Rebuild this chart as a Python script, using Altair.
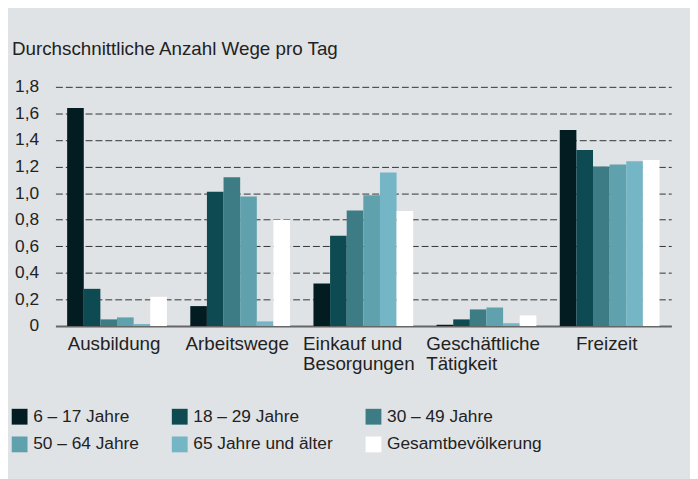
import altair as alt
import pandas as pd

categories = ["Ausbildung", "Arbeitswege", "Einkauf und|Besorgungen", "Geschäftliche|Tätigkeit", "Freizeit"]
groups = ["6 – 17 Jahre", "18 – 29 Jahre", "30 – 49 Jahre", "50 – 64 Jahre", "65 Jahre und älter", "Gesamtbevölkerung"]
colors = ["#021c22", "#0e4a52", "#3d7b85", "#5fa1ad", "#74b5c6", "#ffffff"]

v_6_17 = [1.64, 0.15, 0.32, 0.01, 1.475]
v_18_29 = [0.28, 1.01, 0.68, 0.05, 1.325]
v_30_49 = [0.05, 1.12, 0.87, 0.125, 1.20]
v_50_64 = [0.065, 0.975, 0.985, 0.14, 1.215]
v_65 = [0.015, 0.035, 1.155, 0.02, 1.24]
v_total = [0.22, 0.80, 0.865, 0.08, 1.25]
y_ticks = [0, 0.2, 0.4, 0.6, 0.8, 1.0, 1.2, 1.4, 1.6, 1.8]

series = [v_6_17, v_18_29, v_30_49, v_50_64, v_65, v_total]
rows = []
for g, vals in zip(groups, series):
    for c, v in zip(categories, vals):
        rows.append({"cat": c, "group": g, "value": v})
df = pd.DataFrame(rows)

FONT = "Liberation Sans"
TXT = "#222222"

chart = alt.Chart(df).mark_bar(strokeWidth=0).encode(
    x=alt.X(
        "cat:N",
        sort=categories,
        scale=alt.Scale(paddingInner=0.19, paddingOuter=0.095),
        axis=alt.Axis(
            title=None,
            labelExpr="split(datum.label, '|')",
            labelAngle=0,
            labelFont=FONT,
            labelFontSize=19,
            labelColor=TXT,
            labelPadding=9,
            labelLineHeight=20,
            labelAlign={"condition": {"test": "indexof(datum.value, '|') >= 0", "value": "left"}, "value": "center"},
            labelOffset={"condition": {"test": "indexof(datum.value, '|') >= 0", "value": -61}, "value": -3},
            ticks=False,
            domain=True,
            domainColor="#666666",
            domainWidth=2,
            grid=False,
        ),
    ),
    xOffset=alt.XOffset("group:N", sort=groups, scale=alt.Scale(paddingInner=0, paddingOuter=0)),
    y=alt.Y(
        "value:Q",
        scale=alt.Scale(domain=[0, 1.8], nice=False),
        axis=alt.Axis(
            title=None,
            values=y_ticks,
            labelExpr="datum.value == 0 ? '0' : replace(format(datum.value, '.1f'), '.', ',')",
            labelFont=FONT,
            labelFontSize=17.5,
            labelColor=TXT,
            labelPadding=17,
            ticks=False,
            domain=False,
            grid=True,
            gridColor="#333333",
            gridDash=[7, 3],
            gridWidth=1,
        ),
    ),
    color=alt.Color(
        "group:N",
        sort=groups,
        scale=alt.Scale(domain=groups, range=colors),
        legend=alt.Legend(
            title=None,
            orient="none",
            direction="horizontal",
            legendX=-45,
            legendY=325,
            columns=3,
            gridAlign="none",
            columnPadding=32,
            rowPadding=9,
            symbolType="square",
            symbolSize=256,
            symbolStrokeWidth=0,
            symbolOpacity=1,
            labelOffset=5,
            labelFont=FONT,
            labelFontSize=17.5,
            labelColor=TXT,
            labelLimit=400,
        ),
    ),
).properties(
    width=623,
    height=242,
    title=alt.TitleParams(
        text="Durchschnittliche Anzahl Wege pro Tag",
        anchor="start",
        frame="group",
        dx=-44,
        offset=19,
        font=FONT,
        fontSize=19,
        fontWeight="normal",
        color=TXT,
    ),
    autosize=alt.AutoSizeParams(type="none"),
    padding={"left": 48, "top": 77, "right": 19, "bottom": 152},
    background="#e0e3e6",
).configure_view(stroke=None)

chart.save("out.html", embed_options={"renderer": "svg", "actions": False})
